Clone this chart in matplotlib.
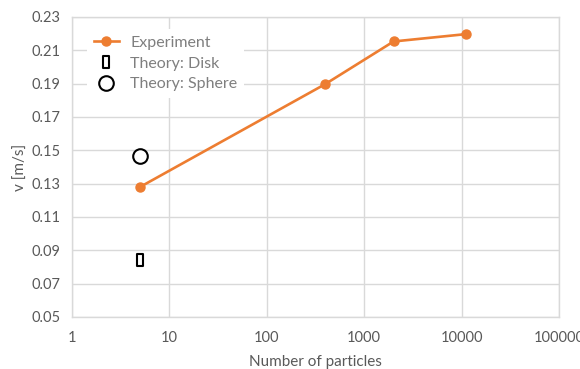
import matplotlib
matplotlib.use('Agg')
import matplotlib.pyplot as plt
from matplotlib.path import Path
from matplotlib.ticker import FixedLocator, FixedFormatter

# data
exp_n = [5, 400, 2000, 11000]
exp_v = [0.128, 0.1898, 0.2153, 0.2197]
disk_n = [5]
disk_v = [0.0843]
sphere_n = [5]
sphere_v = [0.1465]

x_ticks = [1, 10, 100, 1000, 10000, 100000]
x_labels = ["1", "10", "100", "1000", "10000", "100000"]
y_ticks = [0.05, 0.07, 0.09, 0.11, 0.13, 0.15, 0.17, 0.19, 0.21, 0.23]

orange = "#ED7D31"
grey = "#595959"
grid = "#D9D9D9"

plt.rcParams['font.family'] = ['Lato', 'DejaVu Sans']

fig = plt.figure(figsize=(5.8, 3.69), dpi=100)
ax = fig.add_axes([0.124, 0.141, 0.84, 0.813])

rect = Path([(-0.5, -1), (0.5, -1), (0.5, 1), (-0.5, 1), (-0.5, -1)],
            [Path.MOVETO, Path.LINETO, Path.LINETO, Path.LINETO, Path.CLOSEPOLY])

ax.plot(exp_n, exp_v, color=orange, lw=1.9, marker='o', ms=6.5,
        label="Experiment", zorder=3)
ax.plot(disk_n, disk_v, ls='none', marker=rect, ms=8, mfc='white',
        mec='black', mew=1.5, label="Theory: Disk", zorder=3)
ax.plot(sphere_n, sphere_v, ls='none', marker='o', ms=10.5, mfc='white',
        mec='black', mew=1.5, label="Theory: Sphere", zorder=3)

ax.set_xscale('log')
ax.set_xlim(1, 100000)
ax.set_ylim(0.05, 0.23)
ax.xaxis.set_major_locator(FixedLocator(x_ticks))
ax.xaxis.set_major_formatter(FixedFormatter(x_labels))
ax.xaxis.set_minor_locator(FixedLocator([]))
ax.set_yticks(y_ticks)
ax.set_yticklabels([f"{v:.2f}" for v in y_ticks])

ax.grid(True, color=grid, lw=1)
ax.set_axisbelow(True)
for s in ax.spines.values():
    s.set_color(grid)
    s.set_linewidth(1)
ax.tick_params(length=0, colors=grey, labelsize=10.5, pad=8)
ax.tick_params(axis='x', pad=10)

ax.set_xlabel("Number of particles", color=grey, fontsize=11, labelpad=7)
ax.set_ylabel("v [m/s]", color=grey, fontsize=11, labelpad=3)

leg = ax.legend(loc='upper left', bbox_to_anchor=(0.015, 0.985), frameon=True,
                fontsize=11.5, labelcolor="#7F7F7F", handlelength=1.6,
                labelspacing=0.4, borderpad=0.4, handletextpad=0.7)
leg.get_frame().set_facecolor('white')
leg.get_frame().set_edgecolor('none')
leg.get_frame().set_alpha(1)

fig.savefig("out.png", dpi=100)
